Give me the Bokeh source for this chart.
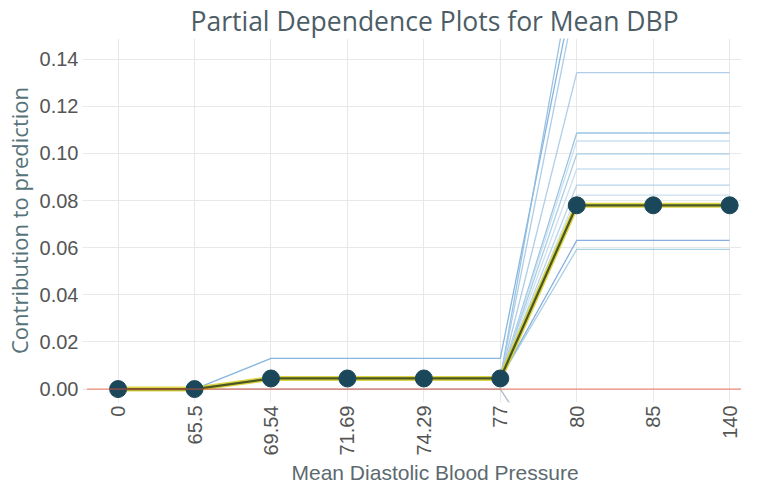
import math
from bokeh.plotting import figure
from bokeh.models import FixedTicker, NumeralTickFormatter, Range1d, Span, Title
from bokeh.embed import file_html
from bokeh.resources import INLINE

# ---------------- data ----------------
categories = ["0", "65.5", "69.54", "71.69", "74.29", "77", "80", "85", "140"]
pdp_values = [0.0, 0.0, 0.0045, 0.0045, 0.0045, 0.0045, 0.078, 0.078, 0.078]

ice_1 = [0.0, 0.0, 0.013, 0.013, 0.013, 0.013, 0.176, 0.176, 0.176]
ice_2 = [0.0, 0.0, 0.0045, 0.0045, 0.0045, 0.0045, 0.188, 0.188, 0.188]
ice_3 = [0.0, 0.0, 0.0045, 0.0045, 0.0045, 0.0045, 0.168, 0.168, 0.168]
ice_4 = [0.0, 0.0, 0.0045, 0.0045, 0.0045, 0.0045, 0.1343, 0.1343, 0.1343]
ice_5 = [0.0, 0.0, 0.0045, 0.0045, 0.0045, 0.0045, 0.1087, 0.1087, 0.1087]
ice_6 = [0.0, 0.0, 0.0045, 0.0045, 0.0045, 0.0045, 0.1053, 0.1053, 0.1053]
ice_7 = [0.0, 0.0, 0.0045, 0.0045, 0.0045, 0.0045, 0.0998, 0.0998, 0.0998]
ice_8 = [0.0, 0.0, 0.0045, 0.0045, 0.0045, 0.0045, 0.0934, 0.0934, 0.0934]
ice_9 = [0.0, 0.0, 0.0045, 0.0045, 0.0045, 0.0045, 0.0866, 0.0866, 0.0866]
ice_10 = [0.0, 0.0, 0.0045, 0.0045, 0.0045, 0.0045, 0.0823, 0.0823, 0.0823]
ice_11 = [0.0, 0.0, 0.0045, 0.0045, 0.0045, 0.0045, 0.0631, 0.0631, 0.0631]
ice_12 = [0.0, 0.0, 0.0045, 0.0045, 0.0045, 0.0045, 0.0593, 0.0593, 0.0593]
ice_13 = [0.0, 0.0, 0.0, 0.0, 0.0, 0.0, -0.050, -0.050, -0.050]

y_ticks = [0.0, 0.02, 0.04, 0.06, 0.08, 0.10, 0.12, 0.14]

ice_lines = [ice_1, ice_2, ice_3, ice_4, ice_5, ice_6, ice_7, ice_8,
             ice_9, ice_10, ice_11, ice_12, ice_13]
ice_colors = ["#7aaedb", "#8fbbe0", "#a3c8e6", "#a6c8e4", "#8fbfe0", "#c6dbef",
              "#9ecae1", "#c6dbef", "#b0cfe8", "#c6dbef", "#7aa6dc", "#9ecae1",
              "#a9b3bf"]

xs = list(range(len(categories)))

# ---------------- figure ----------------
W, H = 741, 483
p = figure(width=W, height=H, output_backend="svg", toolbar_location=None,
           x_range=Range1d(-0.413, 8.155), y_range=Range1d(-0.0057, 0.1488),
           min_border_left=77, min_border_right=0, min_border_top=32,
           min_border_bottom=0)
p.outline_line_color = None
p.background_fill_color = "white"
p.border_fill_color = "white"

p.title.text = "Partial Dependence Plots for Mean DBP"
p.title.align = "left"
p.title.offset = 104
p.title.text_font = "Open Sans"
p.title.text_font_size = "26.5px"
p.title.text_font_style = "normal"
p.title.text_color = "#4c5d66"
p.title.standoff = 0

grid_color = "#e8e8e8"
p.xgrid.ticker = FixedTicker(ticks=xs)
p.xgrid.grid_line_color = grid_color
p.ygrid.grid_line_color = grid_color

# x axis
xa = p.xaxis[0]
xa.ticker = FixedTicker(ticks=xs)
xa.major_label_overrides = {i: c for i, c in enumerate(categories)}
xa.major_label_orientation = math.pi / 2
xa.axis_line_color = None
xa.major_tick_line_color = None
xa.major_tick_out = 0
xa.major_tick_in = 0
xa.minor_tick_line_color = None
xa.major_label_standoff = 3
xa.major_label_text_font = "Liberation Sans"
xa.major_label_text_font_size = "20px"
xa.major_label_text_color = "#555555"

x_title = Title(text="Mean Diastolic Blood Pressure", align="left", offset=205,
                standoff=0, text_font="Liberation Sans", text_font_size="21px",
                text_font_style="normal", text_color="#5c6a70")
p.add_layout(x_title, "below")

# y axis
ya = p.yaxis[0]
ya.ticker = FixedTicker(ticks=y_ticks)
ya.formatter = NumeralTickFormatter(format="0.00")
ya.axis_line_color = None
ya.major_tick_line_color = grid_color
ya.major_tick_out = 4
ya.major_tick_in = 0
ya.minor_tick_line_color = None
ya.major_label_standoff = 4
ya.major_label_text_font = "Liberation Sans"
ya.major_label_text_font_size = "20px"
ya.major_label_text_color = "#555555"
ya.axis_label = "Contribution to prediction"
ya.axis_label_text_font = "Open Sans"
ya.axis_label_text_font_size = "22px"
ya.axis_label_text_font_style = "normal"
ya.axis_label_text_color = "#557378"
ya.axis_label_standoff = 3

# ICE lines
for vals, col in zip(ice_lines, ice_colors):
    p.line(xs, vals, line_color=col, line_width=1.3, line_alpha=0.9)

# zero line
p.add_layout(Span(location=0, dimension="width", line_color="#E75438",
                  line_width=1, line_alpha=0.8, level="glyph"))

# PDP line
p.line(xs, pdp_values, line_color="#D8D030", line_width=5, line_alpha=0.9)
p.line(xs, pdp_values, line_color="#4a5624", line_width=2.2)
p.scatter(xs, pdp_values, size=17, fill_color="#1B475A", line_color="#1B475A")

open("out.html", "w").write(file_html(p, INLINE))
